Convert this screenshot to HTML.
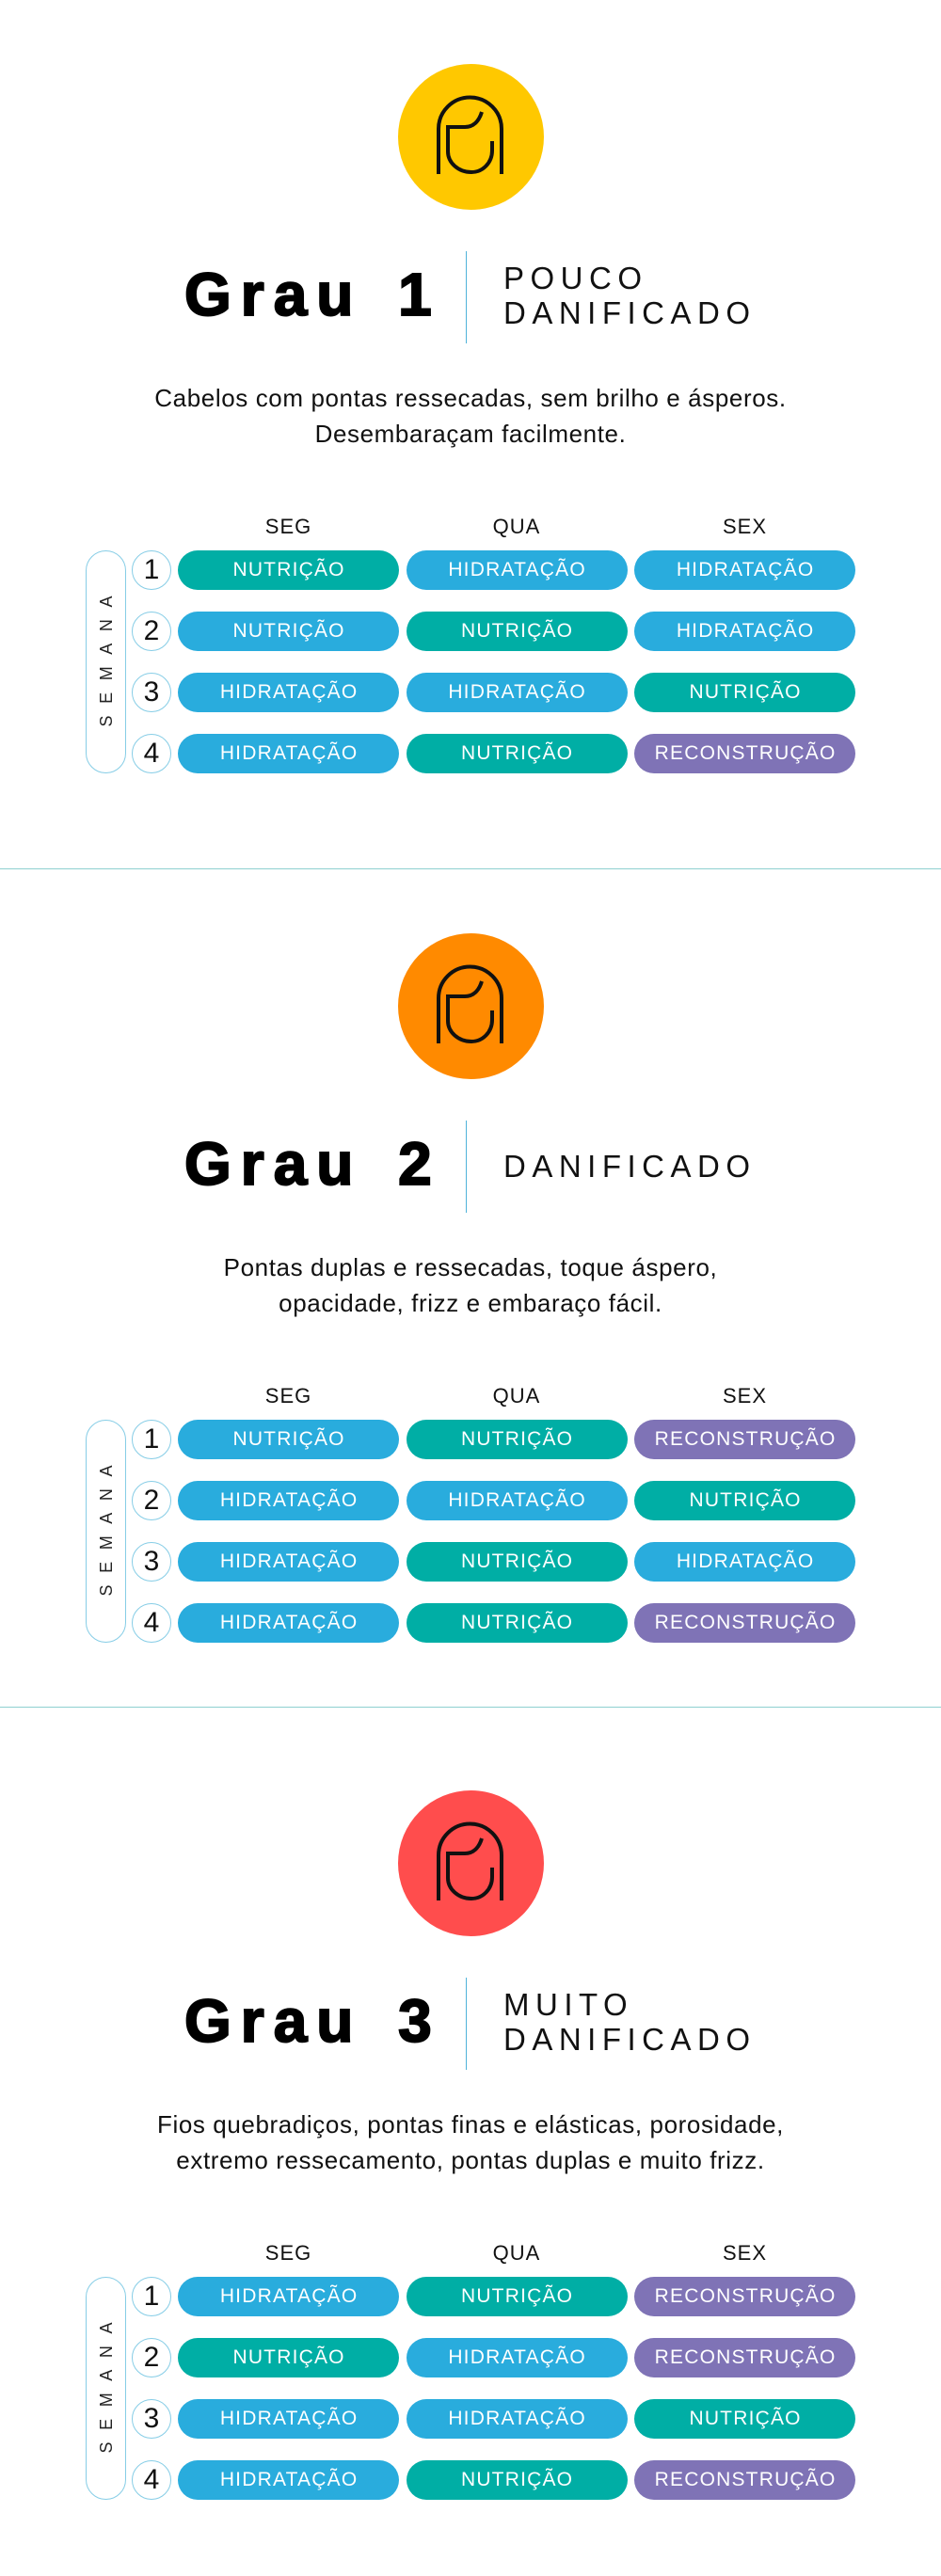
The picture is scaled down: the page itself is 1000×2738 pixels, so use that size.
<!DOCTYPE html>
<html><head><meta charset="utf-8">
<style>
html,body{margin:0;padding:0;background:#fff;}
body{width:1000px;height:2738px;position:relative;overflow:hidden;font-family:"Liberation Sans",Arial,sans-serif;color:#111;}
.sec{position:absolute;left:0;width:1000px;height:900px;}
.circ{position:absolute;left:423px;top:68px;width:155px;height:155px;border-radius:50%;}
.circ svg{position:absolute;left:0;top:0;}
.grau{position:absolute;left:196px;top:281px;font-size:64px;line-height:64px;font-weight:bold;letter-spacing:10px;word-spacing:10px;white-space:nowrap;color:#000;-webkit-text-stroke:2px #000;}
.div{position:absolute;left:494.5px;top:267px;width:1.5px;height:98px;background:#4fb3da;}
.rt{position:absolute;left:535px;font-size:33px;line-height:33px;letter-spacing:6.5px;white-space:nowrap;color:#111;}
.desc{position:absolute;left:0;width:1000px;top:404px;text-align:center;font-size:26px;line-height:38px;letter-spacing:0.6px;color:#111;}
.hd{position:absolute;top:549px;width:120px;text-align:center;font-size:22px;line-height:22px;letter-spacing:1px;color:#111;}
.p{position:absolute;width:235px;height:42px;border-radius:21px;color:#fff;font-size:21px;line-height:42px;letter-spacing:1.2px;padding-left:1.2px;box-sizing:border-box;text-align:center;white-space:nowrap;}
.c1{left:189px}.c2{left:431.5px}.c3{left:674px}
.r1{top:585px}.r2{top:650px}.r3{top:715px}.r4{top:780px}
.b{background:#29acdd}.t{background:#00aea5}.v{background:#7f73b6}
.n{position:absolute;left:140px;width:42px;height:42px;border:1px solid #86cde6;border-radius:50%;box-sizing:border-box;text-align:center;font-size:30px;line-height:40px;color:#111;}
.sem{position:absolute;left:91px;top:585px;width:43px;height:237px;border:1px solid #86cde6;border-radius:21.5px;box-sizing:border-box;}
.semt{position:absolute;left:13px;top:693px;width:200px;height:20px;line-height:20px;text-align:center;font-size:18px;letter-spacing:12.6px;padding-left:12.6px;box-sizing:border-box;transform:rotate(-90deg);color:#222;}
.sep{position:absolute;left:0;width:1000px;height:1.6px;background:#8fd0d0;}
</style></head><body>

<!-- SECTION 1 -->
<div class="sec" style="top:0">
  <div class="circ" style="background:#ffc800">
    <svg width="155" height="155" viewBox="0 0 155 155"><g fill="none" stroke="#111" stroke-width="4">
      <path d="M43,117 V69 A33.5,33.5 0 0 1 110,69 V117"/>
      <path d="M89,51 C86,61 80,67 71,67 H53 V93 C53,105 64,115 78,115 C90,115 100,105 100,92 V82"/>
    </g></svg>
  </div>
  <div class="grau">Grau 1</div>
  <div class="div"></div>
  <div class="rt" style="top:279px">POUCO</div>
  <div class="rt" style="top:316px">DANIFICADO</div>
  <div class="desc">Cabelos com pontas ressecadas, sem brilho e ásperos.<br>Desembaraçam facilmente.</div>
  <div class="hd" style="left:246.5px">SEG</div>
  <div class="hd" style="left:489px">QUA</div>
  <div class="hd" style="left:731.5px">SEX</div>
  <div class="sem"></div><div class="semt">SEMANA</div>
  <div class="n r1">1</div><div class="n r2">2</div><div class="n r3">3</div><div class="n r4">4</div>
  <div class="p c1 r1 t">NUTRIÇÃO</div><div class="p c2 r1 b">HIDRATAÇÃO</div><div class="p c3 r1 b">HIDRATAÇÃO</div>
  <div class="p c1 r2 b">NUTRIÇÃO</div><div class="p c2 r2 t">NUTRIÇÃO</div><div class="p c3 r2 b">HIDRATAÇÃO</div>
  <div class="p c1 r3 b">HIDRATAÇÃO</div><div class="p c2 r3 b">HIDRATAÇÃO</div><div class="p c3 r3 t">NUTRIÇÃO</div>
  <div class="p c1 r4 b">HIDRATAÇÃO</div><div class="p c2 r4 t">NUTRIÇÃO</div><div class="p c3 r4 v">RECONSTRUÇÃO</div>
</div>

<div class="sep" style="top:922.5px"></div>

<!-- SECTION 2 -->
<div class="sec" style="top:924px">
  <div class="circ" style="background:#ff8a00">
    <svg width="155" height="155" viewBox="0 0 155 155"><g fill="none" stroke="#111" stroke-width="4">
      <path d="M43,117 V69 A33.5,33.5 0 0 1 110,69 V117"/>
      <path d="M89,51 C86,61 80,67 71,67 H53 V93 C53,105 64,115 78,115 C90,115 100,105 100,92 V82"/>
    </g></svg>
  </div>
  <div class="grau">Grau 2</div>
  <div class="div"></div>
  <div class="rt" style="top:299px">DANIFICADO</div>
  <div class="desc">Pontas duplas e ressecadas, toque áspero,<br>opacidade, frizz e embaraço fácil.</div>
  <div class="hd" style="left:246.5px">SEG</div>
  <div class="hd" style="left:489px">QUA</div>
  <div class="hd" style="left:731.5px">SEX</div>
  <div class="sem"></div><div class="semt">SEMANA</div>
  <div class="n r1">1</div><div class="n r2">2</div><div class="n r3">3</div><div class="n r4">4</div>
  <div class="p c1 r1 b">NUTRIÇÃO</div><div class="p c2 r1 t">NUTRIÇÃO</div><div class="p c3 r1 v">RECONSTRUÇÃO</div>
  <div class="p c1 r2 b">HIDRATAÇÃO</div><div class="p c2 r2 b">HIDRATAÇÃO</div><div class="p c3 r2 t">NUTRIÇÃO</div>
  <div class="p c1 r3 b">HIDRATAÇÃO</div><div class="p c2 r3 t">NUTRIÇÃO</div><div class="p c3 r3 b">HIDRATAÇÃO</div>
  <div class="p c1 r4 b">HIDRATAÇÃO</div><div class="p c2 r4 t">NUTRIÇÃO</div><div class="p c3 r4 v">RECONSTRUÇÃO</div>
</div>

<div class="sep" style="top:1813.5px"></div>

<!-- SECTION 3 -->
<div class="sec" style="top:1835px">
  <div class="circ" style="background:#ff4d4d">
    <svg width="155" height="155" viewBox="0 0 155 155"><g fill="none" stroke="#111" stroke-width="4">
      <path d="M43,117 V69 A33.5,33.5 0 0 1 110,69 V117"/>
      <path d="M89,51 C86,61 80,67 71,67 H53 V93 C53,105 64,115 78,115 C90,115 100,105 100,92 V82"/>
    </g></svg>
  </div>
  <div class="grau">Grau 3</div>
  <div class="div"></div>
  <div class="rt" style="top:279px">MUITO</div>
  <div class="rt" style="top:316px">DANIFICADO</div>
  <div class="desc">Fios quebradiços, pontas finas e elásticas, porosidade,<br>extremo ressecamento, pontas duplas e muito frizz.</div>
  <div class="hd" style="left:246.5px">SEG</div>
  <div class="hd" style="left:489px">QUA</div>
  <div class="hd" style="left:731.5px">SEX</div>
  <div class="sem"></div><div class="semt">SEMANA</div>
  <div class="n r1">1</div><div class="n r2">2</div><div class="n r3">3</div><div class="n r4">4</div>
  <div class="p c1 r1 b">HIDRATAÇÃO</div><div class="p c2 r1 t">NUTRIÇÃO</div><div class="p c3 r1 v">RECONSTRUÇÃO</div>
  <div class="p c1 r2 t">NUTRIÇÃO</div><div class="p c2 r2 b">HIDRATAÇÃO</div><div class="p c3 r2 v">RECONSTRUÇÃO</div>
  <div class="p c1 r3 b">HIDRATAÇÃO</div><div class="p c2 r3 b">HIDRATAÇÃO</div><div class="p c3 r3 t">NUTRIÇÃO</div>
  <div class="p c1 r4 b">HIDRATAÇÃO</div><div class="p c2 r4 t">NUTRIÇÃO</div><div class="p c3 r4 v">RECONSTRUÇÃO</div>
</div>

</body></html>
